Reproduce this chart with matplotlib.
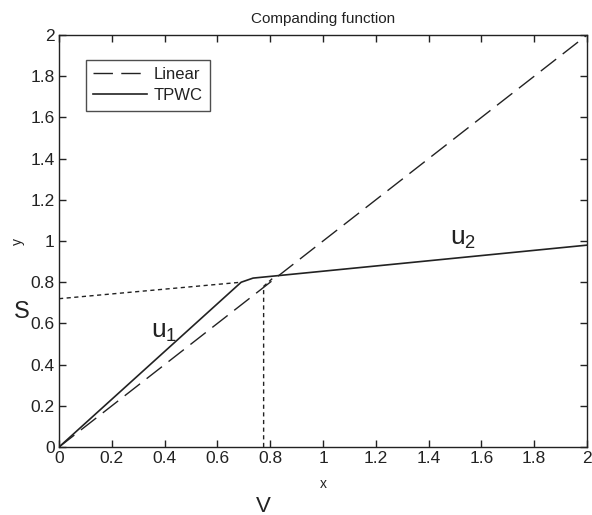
import numpy as np
import matplotlib
matplotlib.use("Agg")
import matplotlib.pyplot as plt

# Linear reference curve y = x
linear_x = [0.0, 2.0]
linear_y = [0.0, 2.0]

# Two-piece companding curve (segment u1 then segment u2)
tpwc_x = [0.0, 0.69, 0.735, 2.0]
tpwc_y = [0.0, 0.80, 0.82, 0.98]

# Extension of segment u2 back to the y axis
ext_x = [0.0, 0.69]
ext_y = [0.72, 0.80]

# Vertical guide at the breakpoint V
guide_x = [0.775, 0.775, 0.81]
guide_y = [0.0, 0.78, 0.82]

xticks = [0, 0.2, 0.4, 0.6, 0.8, 1, 1.2, 1.4, 1.6, 1.8, 2]
yticks = [0, 0.2, 0.4, 0.6, 0.8, 1, 1.2, 1.4, 1.6, 1.8, 2]
tick_labels = ["0", "0.2", "0.4", "0.6", "0.8", "1", "1.2", "1.4", "1.6", "1.8", "2"]

plt.rcParams["font.family"] = ["Liberation Sans", "DejaVu Sans"]
plt.rcParams["mathtext.fontset"] = "custom"
plt.rcParams["mathtext.rm"] = "Liberation Sans"

fig = plt.figure(figsize=(5.92, 5.15), dpi=100)
ax = fig.add_axes([0.0997, 0.132, 0.8919, 0.800])

ink = "#222222"
ax.plot(linear_x, linear_y, color=ink, lw=1.0, dashes=(14, 6), label="Linear")
ax.plot(tpwc_x, tpwc_y, color=ink, lw=1.2, label="TPWC")
ax.plot(ext_x, ext_y, color=ink, lw=1.0, dashes=(3, 2.5))
ax.plot(guide_x, guide_y, color=ink, lw=1.0, dashes=(3, 2.5))

ax.set_xlim(0, 2)
ax.set_ylim(0, 2)
ax.set_xticks(xticks)
ax.set_yticks(yticks)
ax.set_xticklabels(tick_labels)
ax.set_yticklabels(tick_labels)
ax.tick_params(direction="in", top=True, right=True, length=5, width=1.0,
               labelsize=12.5, colors=ink, pad=3)
for s in ax.spines.values():
    s.set_linewidth(1.0)
    s.set_color(ink)

ax.set_title("Companding function", fontsize=11, color=ink, pad=9)
ax.set_xlabel("x", fontsize=10, color=ink, labelpad=8)
ax.set_ylabel("y", fontsize=10, color=ink, labelpad=4)

leg = ax.legend(loc="upper left", bbox_to_anchor=(0.035, 0.96), fontsize=12,
                frameon=True, fancybox=False, handlelength=3.2,
                borderpad=0.45, labelspacing=0.35, handletextpad=0.4)
leg.get_frame().set_edgecolor(ink)
leg.get_frame().set_linewidth(1.0)
for t in leg.get_texts():
    t.set_color(ink)

ax.text(0.40, 0.56, r"$\mathregular{u_1}$", fontsize=19, color=ink,
        ha="center", va="center")
ax.text(1.53, 1.01, r"$\mathregular{u_2}$", fontsize=19, color=ink,
        ha="center", va="center")
fig.text(22 / 592, 1 - 312 / 515, "S", fontsize=17, color=ink,
         ha="center", va="center")
fig.text(263 / 592, 1 - 506 / 515, "V", fontsize=16, color=ink,
         ha="center", va="center")

fig.savefig("out.png", dpi=100)
